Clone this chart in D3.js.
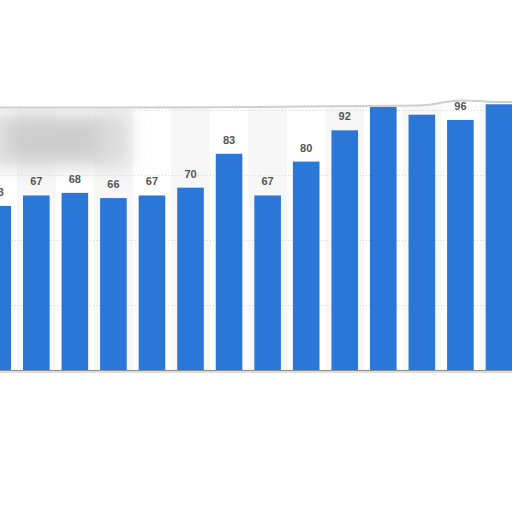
<!DOCTYPE html>
<html>
<head>
<meta charset="utf-8">
<script src="https://cdn.jsdelivr.net/npm/d3@7"></script>
<style>
  body { margin: 0; background: #fff; }
  svg { display: block; }
</style>
</head>
<body>
<div id="chart"></div>
<script>
// valores (las barras 11 y 14 quedan cortadas arriba)
const categories = ['1', '2', '3', '4', '5', '6', '7', '8', '9', '10', '11', '12', '13', '14'];
const values = [63, 67, 68, 66, 67, 70, 83, 67, 80, 92, 101, 98, 96, 102];
const gridTicks = [25, 50, 75, 100];

const WIDTH = 512
const HEIGHT = 512

const plot = {top: 104, bottom: 370};

const svg = d3.select('#chart')
    .append('svg')
        .attr('width', WIDTH)
        .attr('height', HEIGHT);

const defs = svg.append('defs');
defs.append('filter').attr('id', 'blur')
    .attr('x', '-50%').attr('y', '-50%').attr('width', '200%').attr('height', '200%')
  .append('feGaussianBlur').attr('stdDeviation', 9);
defs.append('clipPath').attr('id', 'plotclip')
  .append('rect')
    .attr('x', 0).attr('y', plot.top)
    .attr('width', WIDTH).attr('height', plot.bottom - plot.top + 1);

const x = d3.scaleBand()
    .domain(categories)
    .range([-27.5, 524.2])
    .padding(0.31);

const y = d3.scaleLinear()
    .domain([0, 100])
    .range([plot.bottom, plot.bottom - 260.5]);

const g = svg.append('g').attr('clip-path', 'url(#plotclip)');

// bandas alternas de fondo
g.selectAll('rect.band')
    .data(categories.filter((d, i) => i % 2 === 1))
    .enter().append('rect')
        .attr('class', 'band')
        .attr('x', d => x(d) + x.bandwidth() / 2 - x.step() / 2)
        .attr('y', plot.top)
        .attr('width', x.step())
        .attr('height', plot.bottom - plot.top)
        .attr('fill', '#f7f7f7');

// mancha borrosa arriba a la izquierda
const blob = g.append('g').attr('filter', 'url(#blur)');
blob.append('rect')
    .attr('x', -10).attr('y', 112)
    .attr('width', 140).attr('height', 56)
    .attr('fill', '#dcdcdc');
blob.append('rect')
    .attr('x', 10).attr('y', 120)
    .attr('width', 90).attr('height', 38)
    .attr('fill', '#cdcdcd');

// lineas de grilla punteadas
g.selectAll('line.grid')
    .data(gridTicks)
    .enter().append('line')
        .attr('class', 'grid')
        .attr('x1', 0).attr('x2', WIDTH)
        .attr('y1', d => Math.round(y(d)) + 0.5)
        .attr('y2', d => Math.round(y(d)) + 0.5)
        .attr('stroke', '#d6d6d6')
        .attr('stroke-dasharray', '1,2');

// barras
g.selectAll('rect.bar')
    .data(values)
    .enter().append('rect')
        .attr('class', 'bar')
        .attr('x', (d, i) => x(categories[i]))
        .attr('y', d => y(d))
        .attr('width', x.bandwidth())
        .attr('height', d => y(0) - y(d))
        .attr('fill', '#2b77d8');

// borde superior un poco ondulado (tapa lo que sale del recuadro)
const edge = [[0, 107.5], [250, 107.5], [330, 106], [395, 105.5], [430, 106], [455, 99], [485, 102], [512, 102]];
const edgePath = d3.line().curve(d3.curveBasis)(edge);
svg.append('path')
    .attr('d', edgePath + 'L512,0L0,0Z')
    .attr('fill', '#fff');
svg.append('path')
    .attr('d', edgePath)
    .attr('fill', 'none')
    .attr('stroke', '#cfcfcf')
    .attr('stroke-width', 2);

// etiquetas de valor; las que quedan sobre el borde se esconden
svg.append('g').selectAll('text.label')
    .data(values)
    .enter().append('text')
        .attr('class', 'label')
        .attr('x', (d, i) => x(categories[i]) + x.bandwidth() / 2)
        .attr('y', d => y(d) - 10)
        .attr('text-anchor', 'middle')
        .style('font-family', '"Liberation Sans", Arial, sans-serif')
        .style('font-size', '11px')
        .style('font-weight', 'bold')
        .attr('fill', '#555')
        .attr('display', d => (y(d) - 10 < 106 ? 'none' : null))
        .text(d => d);

// eje inferior
svg.append('line')
    .attr('x1', 0).attr('x2', WIDTH)
    .attr('y1', plot.bottom + 0.5).attr('y2', plot.bottom + 0.5)
    .attr('stroke', '#8c8c8c');
svg.append('line')
    .attr('x1', 0).attr('x2', WIDTH)
    .attr('y1', plot.bottom + 2).attr('y2', plot.bottom + 2)
    .attr('stroke', '#dedede')
    .attr('stroke-width', 2);
</script>
</body>
</html>
